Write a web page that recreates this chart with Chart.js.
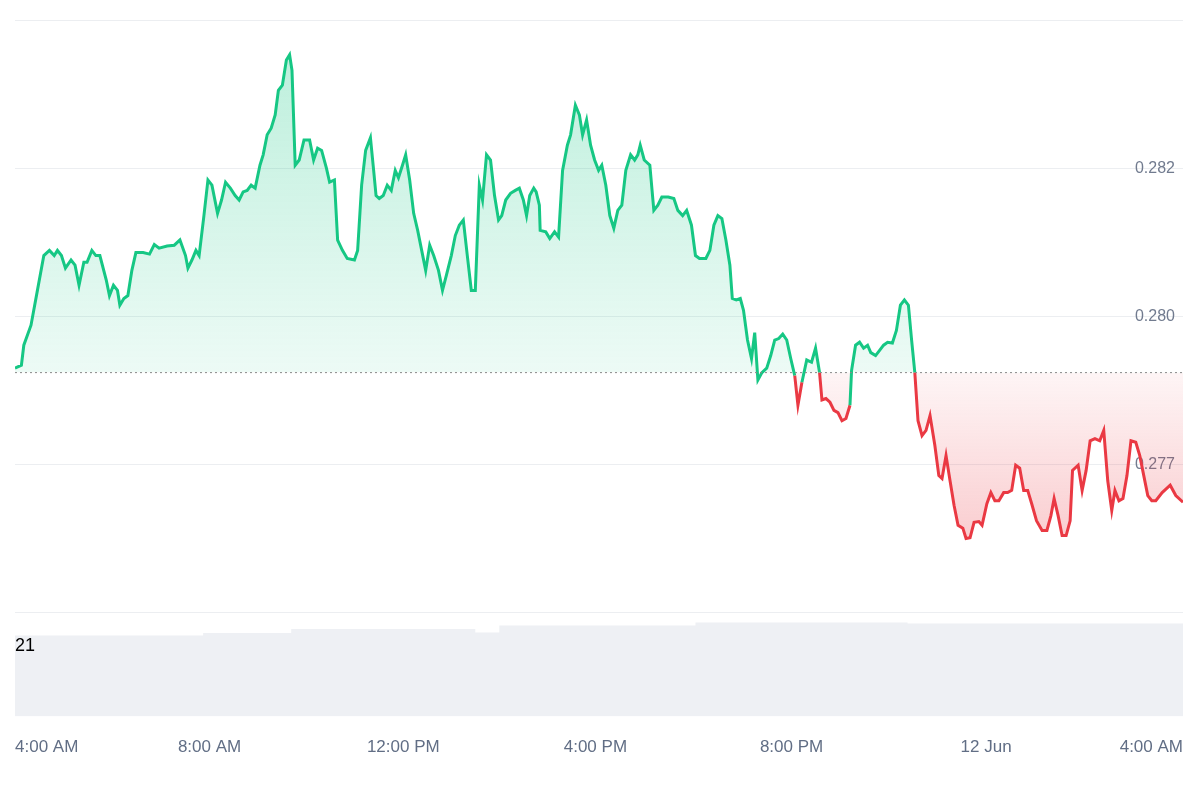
<!DOCTYPE html>
<html><head><meta charset="utf-8">
<script src="https://cdn.jsdelivr.net/npm/chart.js@4/dist/chart.umd.min.js"></script>
<style>html,body{margin:0;padding:0;background:#fff}#w{width:1200px;height:800px}</style>
</head><body><div id="w"><canvas id="c"></canvas></div>
<script>
// time in minutes (trace units), price
const times = [185,193,196,205,213,221,228,234,238,243,248,255,260,265,271,275,281,286,291,299,303,308,313,316,321,326,331,336,345,353,359,365,375,384,391,398,401,406,411,415,421,426,431,438,443,448,454,460,465,470,475,480,485,491,495,500,505,510,514,519,524,528,531,535,540,546,553,558,563,568,574,578,584,588,594,600,609,613,618,623,629,633,636,640,645,650,655,660,664,669,673,678,683,688,693,698,703,708,714,719,724,730,735,740,745,750,755,760,765,769,774,779,784,789,793,798,804,810,815,820,824,828,833,836,840,841,848,853,859,864,869,875,879,885,890,894,899,904,909,914,918,923,928,933,938,943,948,954,959,963,966,971,978,983,988,993,1001,1008,1013,1019,1024,1030,1035,1040,1048,1053,1058,1063,1068,1073,1078,1081,1086,1091,1095,1100,1105,1109,1113,1118,1124,1129,1134,1139,1144,1149,1154,1159,1163,1168,1174,1180,1185,1190,1193,1198,1203,1208,1213,1218,1223,1228,1230,1235,1240,1245,1250,1254,1260,1265,1270,1275,1281,1286,1291,1296,1301,1305,1309,1313,1318,1323,1328,1334,1339,1343,1348,1353,1358,1363,1369,1373,1378,1383,1389,1393,1399,1404,1409,1414,1420,1425,1430,1435,1440,1445,1450,1455,1461,1468,1474,1479,1483,1488,1493,1498,1503,1506,1513,1518,1523,1528,1534,1540,1545,1550,1555,1559,1564,1569,1574,1579,1585,1590,1595,1600,1605,1610,1618,1628,1635,1644];
const prices = [0.27930,0.27934,0.27961,0.27988,0.28035,0.28082,0.28089,0.28082,0.28089,0.28082,0.28065,0.28076,0.28069,0.28042,0.28073,0.28073,0.28089,0.28082,0.28082,0.28049,0.28028,0.28042,0.28035,0.28015,0.28024,0.28028,0.28062,0.28086,0.28086,0.28084,0.28097,0.28092,0.28095,0.28096,0.28103,0.28082,0.28065,0.28076,0.28089,0.28082,0.28136,0.28184,0.28177,0.28139,0.28157,0.28181,0.28173,0.28163,0.28157,0.28168,0.28170,0.28177,0.28173,0.28204,0.28218,0.28245,0.28254,0.28272,0.28305,0.28312,0.28346,0.28353,0.28332,0.28204,0.28211,0.28238,0.28238,0.28211,0.28227,0.28224,0.28200,0.28181,0.28184,0.28103,0.28089,0.28078,0.28076,0.28089,0.28177,0.28224,0.28241,0.28197,0.28163,0.28159,0.28163,0.28177,0.28170,0.28197,0.28187,0.28204,0.28218,0.28184,0.28139,0.28116,0.28089,0.28062,0.28096,0.28082,0.28062,0.28035,0.28056,0.28082,0.28109,0.28123,0.28130,0.28082,0.28035,0.28035,0.28177,0.28157,0.28218,0.28211,0.28163,0.28130,0.28136,0.28157,0.28166,0.28170,0.28173,0.28157,0.28136,0.28163,0.28173,0.28168,0.28150,0.28116,0.28114,0.28105,0.28114,0.28107,0.28197,0.28231,0.28245,0.28285,0.28272,0.28245,0.28265,0.28231,0.28211,0.28197,0.28204,0.28177,0.28136,0.28119,0.28143,0.28150,0.28197,0.28218,0.28211,0.28218,0.28231,0.28211,0.28204,0.28143,0.28150,0.28161,0.28161,0.28159,0.28143,0.28136,0.28143,0.28123,0.28082,0.28078,0.28078,0.28089,0.28123,0.28136,0.28132,0.28103,0.28069,0.28024,0.28022,0.28024,0.28008,0.27968,0.27943,0.27978,0.27914,0.27924,0.27930,0.27947,0.27968,0.27970,0.27976,0.27968,0.27943,0.27920,0.27880,0.27911,0.27941,0.27938,0.27957,0.27924,0.27887,0.27889,0.27884,0.27873,0.27870,0.27859,0.27862,0.27880,0.27927,0.27961,0.27965,0.27957,0.27961,0.27951,0.27947,0.27954,0.27961,0.27965,0.27964,0.27981,0.28015,0.28022,0.28015,0.27968,0.27924,0.27859,0.27839,0.27846,0.27866,0.27826,0.27785,0.27781,0.27812,0.27778,0.27745,0.27718,0.27714,0.27700,0.27701,0.27722,0.27723,0.27718,0.27747,0.27762,0.27751,0.27751,0.27762,0.27762,0.27765,0.27799,0.27795,0.27765,0.27765,0.27747,0.27724,0.27711,0.27711,0.27731,0.27754,0.27731,0.27704,0.27704,0.27724,0.27792,0.27799,0.27765,0.27792,0.27832,0.27835,0.27832,0.27846,0.27778,0.27738,0.27765,0.27751,0.27754,0.27785,0.27832,0.27830,0.27812,0.27785,0.27758,0.27751,0.27751,0.27762,0.27772,0.27758,0.27749];
const baseline = 0.27924;
const volTimes = [185,420,530,760,790,935,1035,1300,1644];
const volValues = [16.4,16.9,17.7,17.0,18.4,18.4,19.0,18.8,18.8];
const volLabel = "21";
const xTickPos = [185,428,670,910,1155,1398,1644];
const xTickLabels = ["4:00 AM","8:00 AM","12:00 PM","4:00 PM","8:00 PM","12 Jun","4:00 AM"];
const yTickVals = [0.282,0.280,0.278];
const yTickLabels = ["0.282","0.280","0.277"];

const GREEN='#16c784', RED='#ea3943';
function grad(ctx, top){
  const ch=ctx.chart, ca=ch.chartArea; if(!ca) return null;
  const y=ch.scales.y, by=y.getPixelForValue(baseline);
  const g=ch.ctx.createLinearGradient(0,y.top,0,y.bottom);
  const f=(v)=>Math.min(1,Math.max(0,(v-y.top)/(y.bottom-y.top)));
  if(top){g.addColorStop(f(y.getPixelForValue(0.2835)),'rgba(22,199,132,0.28)');g.addColorStop(f(by),'rgba(22,199,132,0.08)');g.addColorStop(1,'rgba(22,199,132,0.08)');}
  else{g.addColorStop(0,'rgba(234,57,67,0.05)');g.addColorStop(f(by),'rgba(234,57,67,0.05)');g.addColorStop(f(y.getPixelForValue(0.2770)),'rgba(234,57,67,0.25)');g.addColorStop(1,'rgba(234,57,67,0.25)');}
  return g;
}
const extras={id:'extras',afterDatasetsDraw(ch){
  const c=ch.ctx,y=ch.scales.y,x=ch.scales.x,py=y.getPixelForValue(baseline);
  c.save();c.setLineDash([2,3]);c.strokeStyle='#888';c.lineWidth=1;
  c.beginPath();c.moveTo(x.left,py);c.lineTo(x.right,py);c.stroke();c.setLineDash([]);
  c.fillStyle='#000';c.font='18px "Liberation Sans", Arial, sans-serif';c.textBaseline='middle';
  c.fillText(volLabel,x.left,ch.scales.y2.top+33);c.restore();
}};
new Chart(document.getElementById('c'),{
  data:{datasets:[
   {type:'line',data:times.map((t,i)=>({x:t,y:prices[i]})),yAxisID:'y',borderWidth:3,pointRadius:0,tension:0,
    borderColor:GREEN,
    segment:{borderColor:c=>(c.p1.parsed.y<baseline&&c.p0.parsed.y<=baseline+0.00003)||(c.p0.parsed.y<baseline&&c.p1.parsed.y<baseline)?RED:GREEN},
    fill:{target:{value:baseline},above:c=>grad(c,true),below:c=>grad(c,false)}},
   {type:'line',data:volTimes.map((t,i)=>({x:t,y:volValues[i]})),yAxisID:'y2',stepped:true,borderWidth:0,pointRadius:0,fill:'start',backgroundColor:'#eef0f4'}
  ]},
  options:{responsive:true,maintainAspectRatio:false,animation:false,
   layout:{padding:{left:15,right:17,top:20,bottom:29}},
   plugins:{legend:{display:false},tooltip:{enabled:false}},
   scales:{
    x:{type:'linear',min:185,max:1644,border:{display:false},grid:{display:false},
       afterBuildTicks:s=>{s.ticks=xTickPos.map(v=>({value:v}));},
       ticks:{align:'inner',padding:13,color:'#616e85',font:{size:17,family:'"Liberation Sans", Arial'},callback:(v)=>xTickLabels[xTickPos.indexOf(v)]}},
    y:{position:'right',stack:'s',stackWeight:5.7,min:0.276,max:0.284,afterFit:s=>{s.width=0;},
       border:{display:false},grid:{color:'#eceef1',drawTicks:false},
       afterBuildTicks:s=>{s.ticks=[0.276,0.278,0.280,0.282,0.284].map(v=>({value:v}));},
       ticks:{mirror:true,padding:-8,color:'#717b8f',font:{size:16,family:'"Liberation Sans", Arial'},
         callback:v=>{const i=yTickVals.findIndex(a=>Math.abs(a-v)<1e-7);return i<0?'':yTickLabels[i];}}},
    y2:{position:'right',stack:'s',stackWeight:1,min:0,max:21,display:true,afterFit:s=>{s.width=0;},
       border:{display:false},grid:{display:false},ticks:{display:false}}
   }},
  plugins:[extras]
});
</script></body></html>
